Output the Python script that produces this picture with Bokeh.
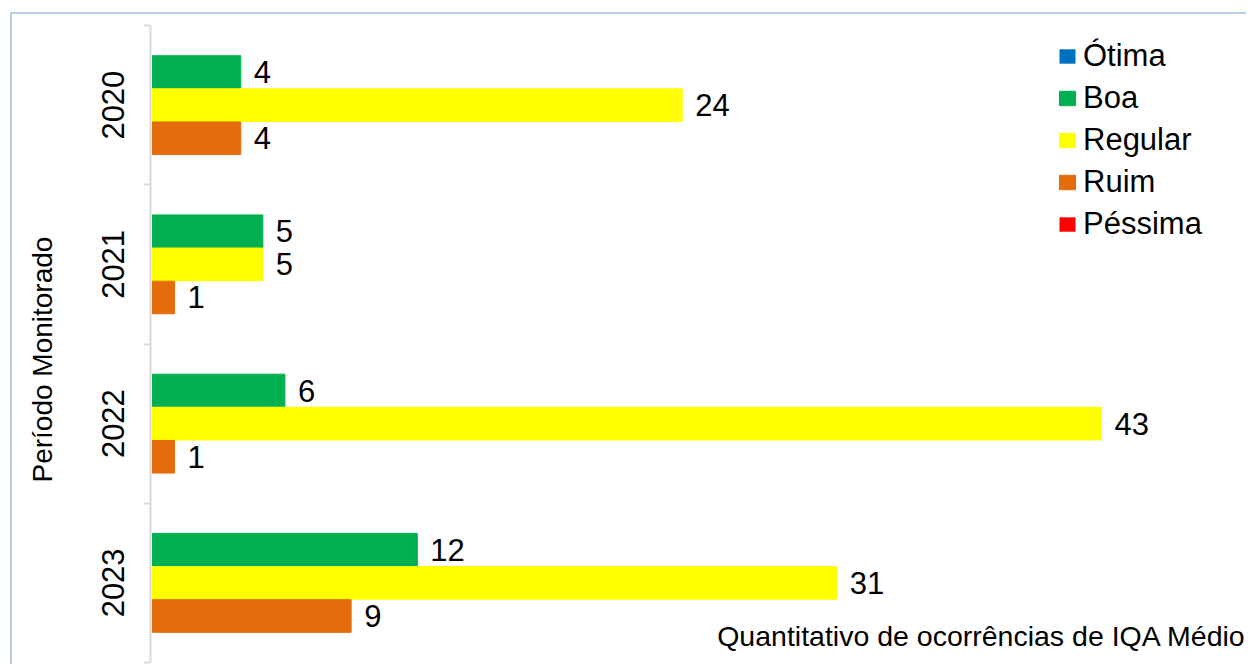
from bokeh.plotting import figure
from bokeh.models import (ColumnDataSource, FixedTicker, Legend, LegendItem, Label,
                          Range1d)
from bokeh.transform import dodge
from bokeh.core.properties import value
from bokeh.embed import file_html
from bokeh.resources import INLINE

years = ["2020", "2021", "2022", "2023"]
otima = [0, 0, 0, 0]
boa = [4, 5, 6, 12]
regular = [24, 5, 43, 31]
ruim = [4, 1, 1, 9]
pessima = [0, 0, 0, 0]

series_names = ["Ótima", "Boa", "Regular", "Ruim", "Péssima"]
colors = ["#0070C0", "#00B050", "#FFFF00", "#E46C0A", "#FF0000"]

n = len(years)
pos = [n - i - 0.5 for i in range(n)]  # first year on top

src = ColumnDataSource(dict(pos=pos, otima=otima, boa=boa, regular=regular,
                            ruim=ruim, pessima=pessima,
                            boa_t=[str(v) for v in boa],
                            regular_t=[str(v) for v in regular],
                            ruim_t=[str(v) for v in ruim]))

FONT = "Liberation Sans"
W, H = 1236, 652
px_per_unit = 22.07
frame_left = 138
x_start = -2 / px_per_unit
x_end = x_start + (W - frame_left) / px_per_unit

p = figure(width=W, height=H, output_backend="svg", toolbar_location=None,
           x_range=Range1d(x_start, x_end), y_range=Range1d(0, n),
           min_border_left=frame_left, min_border_right=0,
           min_border_top=11, min_border_bottom=4)
p.styles = {"margin-left": "10px", "margin-top": "12px",
            "border-left": "2px solid #b9cde5", "border-top": "2px solid #b9cde5"}
p.background_fill_color = "white"
p.border_fill_color = "white"
p.outline_line_color = None
p.grid.visible = False
p.xaxis.visible = False

bh = 0.205
off = 0.208
fields = ["otima", "boa", "regular", "ruim", "pessima"]
offsets = [0, off, 0, -off, 0]
renderers = []
for f, o, c in zip(fields, offsets, colors):
    lc = None if f in ("otima", "pessima") else c
    r = p.hbar(y=dodge("pos", o), right=f, left=0, height=bh, source=src,
               fill_color=c, line_color=lc)
    renderers.append(r)

for f, o in [("boa", off), ("regular", 0), ("ruim", -off)]:
    p.text(x=f, y=dodge("pos", o), text=f + "_t", source=src, x_offset=13,
           text_baseline="middle", text_align="left",
           text_font=value(FONT), text_font_size="31px", text_color="black")

ax = p.yaxis[0]
ax.ticker = FixedTicker(ticks=pos, minor_ticks=list(range(n + 1)))
ax.major_label_overrides = {pv: y for pv, y in zip(pos, years)}
ax.major_label_orientation = "vertical"
ax.major_label_text_font = FONT
ax.major_label_text_font_size = "31px"
ax.major_label_text_color = "black"
ax.major_label_standoff = 20
ax.major_tick_out = 0
ax.major_tick_in = 0
ax.minor_tick_out = 7
ax.minor_tick_in = 0
ax.minor_tick_line_color = "#d9d9d9"
ax.minor_tick_line_width = 2
ax.axis_line_color = "#d9d9d9"
ax.axis_line_width = 2
ax.axis_label = "Período Monitorado    "
ax.axis_label_text_font = FONT
ax.axis_label_text_font_size = "28px"
ax.axis_label_text_font_style = "normal"
ax.axis_label_text_color = "black"
ax.axis_label_standoff = 41

xlabel = Label(x=x_end - 0.1, y=0.165, text="Quantitativo de ocorrências de IQA Médio",
               text_align="right", text_baseline="middle",
               text_font=FONT, text_font_size="28.5px", text_color="black")
p.add_layout(xlabel)

items = [LegendItem(label=nm, renderers=[r]) for nm, r in zip(series_names, renderers)]
legend = Legend(items=items, location=(907, 420), orientation="vertical",
                label_text_font=FONT, label_text_font_size="31px",
                label_text_color="black", glyph_width=20, glyph_height=18,
                label_standoff=6, spacing=6, padding=4, margin=0,
                border_line_color=None, background_fill_alpha=0)
p.add_layout(legend)

open("out.html", "w").write(file_html(p, INLINE))
